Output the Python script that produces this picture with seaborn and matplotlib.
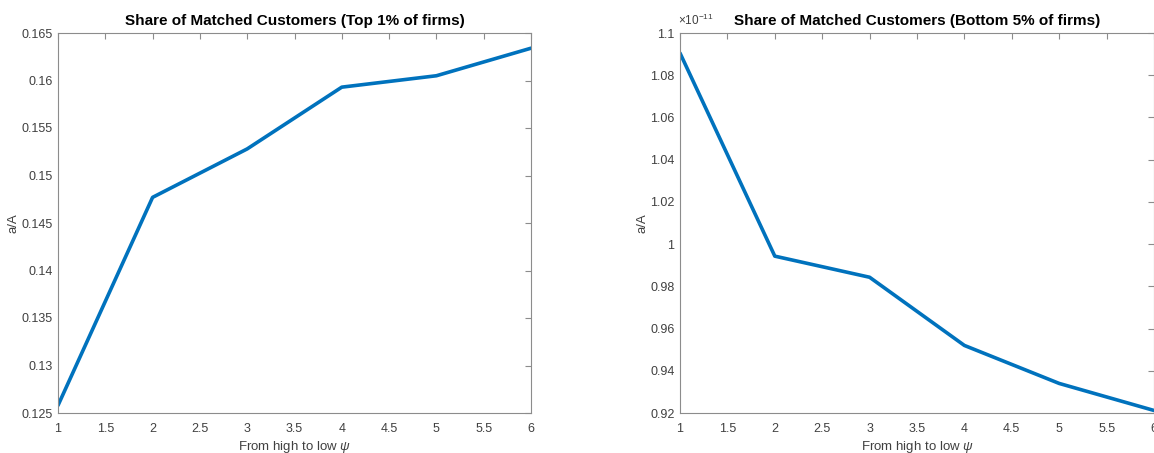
import matplotlib
matplotlib.use("Agg")
import matplotlib.pyplot as plt
import matplotlib.ticker as mticker
import pandas as pd
import seaborn as sns

# psi index, from high to low
psi_rank = [1, 2, 3, 4, 5, 6]
# share of matched customers, top 1% of firms
top_share = [0.1258, 0.1477, 0.1528, 0.1593, 0.1605, 0.1634]
# share of matched customers, bottom 5% of firms (times 1e-11)
bottom_share = [1.0905e-11, 0.9943e-11, 0.9843e-11, 0.9520e-11, 0.9340e-11, 0.9212e-11]

matlab_blue = "#0072BD"
axis_grey = "#8c8c8c"
text_grey = "#404040"

sns.set_style("white")
plt.rcParams["font.family"] = ["Liberation Sans", "DejaVu Sans"]
plt.rcParams["mathtext.fontset"] = "custom"
plt.rcParams["mathtext.rm"] = "Liberation Sans"
plt.rcParams["mathtext.it"] = "Liberation Sans:italic"


def style_axes(ax):
    for s in ax.spines.values():
        s.set_color(axis_grey)
        s.set_linewidth(0.8)
    ax.tick_params(direction="in", which="both", top=True, right=True,
                   length=4, width=0.8, color=axis_grey,
                   labelcolor=text_grey, labelsize=9)
    ax.tick_params(axis="x", pad=7)
    ax.tick_params(axis="y", pad=4)
    ax.set_xlim(1, 6)
    ax.xaxis.set_major_locator(mticker.MultipleLocator(0.5))
    ax.xaxis.set_major_formatter(mticker.FormatStrFormatter("%g"))
    ax.set_xlabel(r"From high to low $\psi$", fontsize=9.5, color=text_grey,
                  labelpad=3)
    ax.set_ylabel("a/A", fontsize=9.5, color=text_grey, labelpad=1)


fig = plt.figure(figsize=(11.54, 4.53), dpi=100)
ax1 = fig.add_axes([58 / 1154, 40 / 453, 473 / 1154, 380 / 453])
ax2 = fig.add_axes([680 / 1154, 40 / 453, 474 / 1154, 380 / 453])

df1 = pd.DataFrame({"x": psi_rank, "y": top_share})
sns.lineplot(data=df1, x="x", y="y", ax=ax1, color=matlab_blue, linewidth=2.6)
style_axes(ax1)
ax1.set_ylim(0.125, 0.165)
ax1.yaxis.set_major_locator(mticker.MultipleLocator(0.005))
ax1.yaxis.set_major_formatter(mticker.FormatStrFormatter("%g"))
ax1.set_title("Share of Matched Customers (Top 1% of firms)",
              fontsize=11, fontweight="bold", color="black", pad=6)

df2 = pd.DataFrame({"x": psi_rank, "y": bottom_share})
sns.lineplot(data=df2, x="x", y="y", ax=ax2, color=matlab_blue, linewidth=2.6)
style_axes(ax2)
ax2.set_ylim(0.92e-11, 1.1e-11)
ax2.yaxis.set_major_locator(mticker.MultipleLocator(0.02e-11))
ax2.yaxis.set_major_formatter(
    mticker.FuncFormatter(lambda v, p: "%g" % round(v / 1e-11, 4)))
ax2.text(-0.005, 1.012, r"$\times 10^{-11}$", transform=ax2.transAxes,
         fontsize=8.5, color=text_grey, ha="left", va="bottom")
ax2.set_title("Share of Matched Customers (Bottom 5% of firms)",
              fontsize=11, fontweight="bold", color="black", pad=6)

fig.savefig("out.png", dpi=100)
